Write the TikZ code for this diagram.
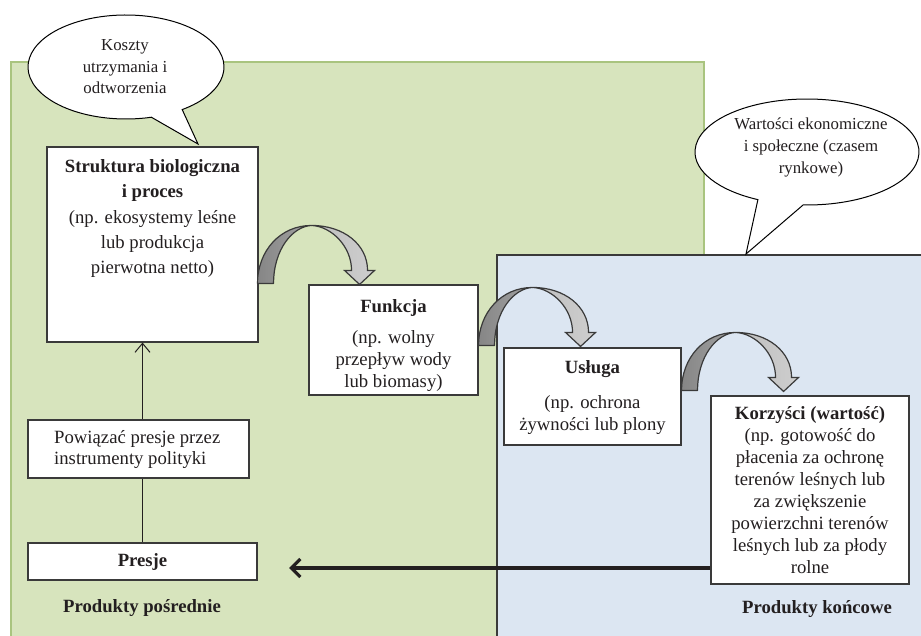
\documentclass[tikz,border=0pt]{standalone}
\usepackage{fontspec}
\setmainfont{Liberation Serif}
\usetikzlibrary{arrows.meta,calc}

\definecolor{greenbg}{HTML}{D7E4BD}
\definecolor{greenln}{HTML}{A9C47F}
\definecolor{bluebg}{HTML}{DCE6F2}
\definecolor{frame}{HTML}{3A3A3A}
\definecolor{ink}{HTML}{231F20}
\definecolor{ribdark}{HTML}{868686}
\definecolor{ribmid}{HTML}{A3A3A3}
\definecolor{riblight}{HTML}{BEBEBE}
\definecolor{ribpale}{HTML}{CECECE}

\tikzset{
  box/.style={draw=frame, fill=white, line width=1.1pt, inner sep=0pt},
  boxtxt/.style={inner sep=0pt, align=center, text=ink,
    font=\fontsize{18.7pt}{22pt}\selectfont},
  calltxt/.style={inner sep=0pt, align=center, text=ink,
    font=\fontsize{16.8pt}{21.5pt}\selectfont},
  callout/.style={draw=black, fill=white, line width=1pt, line join=miter},
  arrowthin/.style={draw=ink, line width=1pt, -{Straight Barb[length=9pt,width=15pt]}},
  arrowthick/.style={draw=ink, line width=3.2pt, -{Straight Barb[length=9pt,width=18pt]}},
  % bent ribbon arrow: origin is the outer foot of the rising leg
  ribbon/.pic={
    \draw[frame, line width=1.2pt, line join=round, left color=ribdark, right color=ribmid]
      (0,0) .. controls (0,-33) and (23,-58) .. (54,-58)
            .. controls (35,-57) and (16,-34) .. (16,0) -- cycle;
    \draw[frame, line width=1.2pt, line join=miter, left color=riblight, right color=ribpale]
      (54,-58) .. controls (86,-58) and (110,-39) .. (110,-13)
      -- (117,-13) -- (102,1) -- (87,-13) -- (94,-13)
      .. controls (94,-37) and (74,-57) .. (54,-58) -- cycle;
  }
}

\begin{document}
\begin{tikzpicture}[x=1pt, y=-1pt]
\useasboundingbox (0,0) rectangle (921,636);
\clip (0,0) rectangle (921,636);

% background panels
\path[fill=greenbg, draw=greenln, line width=1.5pt] (11,62) rectangle (704,660);
\path[fill=bluebg, draw=frame, line width=1.1pt] (497,255) rectangle (940,660);

% speech bubbles
\coordinate (c1) at (126,67);
\coordinate (t1) at (198,144);
\draw[callout] (c1) ++(-55:98pt and 52pt)
  arc[start angle=-55, end angle=285, x radius=98pt, y radius=52pt] -- (t1) -- cycle;
\node[calltxt] (costs) at (125,67) {Koszty\\utrzymania i\\odtworzenia};

\coordinate (c2) at (807,152);
\coordinate (t2) at (746,254);
\draw[callout] (c2) ++(-92:112pt and 53pt)
  arc[start angle=-92, end angle=244, x radius=112pt, y radius=53pt] -- (t2) -- cycle;
\node[calltxt, font=\fontsize{16.8pt}{22pt}\selectfont] (values) at (811,147)
  {Wartości ekonomiczne\\ i społeczne (czasem\\rynkowe)};

% boxes
\node[box, minimum width=211pt, minimum height=195pt] (str) at (152.5,244.5) {};
\node[boxtxt, anchor=north, font=\fontsize{18.7pt}{25.2pt}\selectfont] (strt) at ([yshift=-13pt]str.north)
  {\textbf{Struktura biologiczna}\\\textbf{i proces}\\(np. ekosystemy leśne\\lub produkcja\\pierwotna netto)};

\node[box, minimum width=169pt, minimum height=110pt] (fun) at (393.5,340) {};
\node[boxtxt, anchor=north] (funt) at ([yshift=-15pt]fun.north)
  {\textbf{Funkcja}\\[9pt](np. wolny\\przepływ wody\\lub biomasy)};

\node[box, minimum width=177pt, minimum height=97pt] (usl) at (592.5,396.5) {};
\node[boxtxt, anchor=north] (uslt) at ([yshift=-13pt]usl.north)
  {\textbf{Usługa}\\[13pt](np. ochrona\\żywności lub plony};

\node[box, minimum width=198pt, minimum height=188pt] (kor) at (810,490) {};
\node[boxtxt, anchor=north] (kort) at ([yshift=-11pt]kor.north)
  {\textbf{Korzyści (wartość)}\\(np. gotowość do\\płacenia za ochronę\\terenów leśnych lub\\za zwiększenie\\powierzchni terenów\\leśnych lub za płody\\rolne};

\node[box, minimum width=221pt, minimum height=58pt] (pow) at (138.5,449) {};
\node[boxtxt, align=left, anchor=west, font=\fontsize{18.7pt}{21pt}\selectfont] (powt) at (54,449.5)
  { Powiązać presje przez\\instrumenty polityki};

\node[box, minimum width=229pt, minimum height=37pt] (pre) at (142.5,561.5) {};
\node[boxtxt] (pret) at (pre.center) {\textbf{Presje}};

% panel captions
\node[boxtxt] (capl) at (142,608) {\textbf{Produkty pośrednie}};
\node[boxtxt] (capr) at (817,609) {\textbf{Produkty końcowe}};

% connectors
\draw[ink, line width=1pt] (pre.north) -- (pre.north |- pow.south);
\draw[arrowthin] (pre.north |- pow.north) -- (pre.north |- str.south);

\coordinate (ptip) at (289,568);
\draw[arrowthick] (kor.west |- ptip) -- (ptip);

% bent arrows between stages
\pic at ($(str.east |- fun.north)+(-1,-1)$) {ribbon};
\pic at ($(fun.east |- usl.north)+(0,-2)$) {ribbon};
\pic at ($(usl.east |- kor.north)+(0,-5)$) {ribbon};
\end{tikzpicture}
\end{document}
